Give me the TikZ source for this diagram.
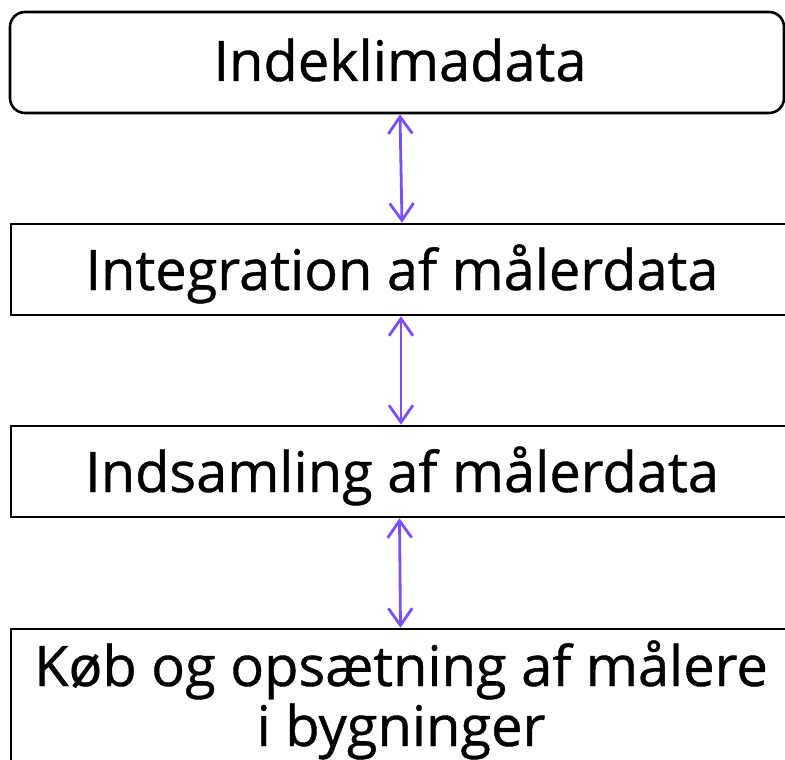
\documentclass[tikz,border=0pt]{standalone}
\usepackage{fontspec}
\setmainfont{Open Sans}[Ligatures=NoCommon, FakeBold=0.7]
\usetikzlibrary{arrows.meta}
\definecolor{linkpurple}{RGB}{124,78,252}
\tikzset{
  stage/.style={draw=black, line width=2.6pt, minimum width=779pt, inner sep=0pt},
  label/.style={font=\fontsize{56}{60}\selectfont, inner sep=0pt, anchor=base},
  barb/.tip={Straight Barb[length=17pt,width=24pt,line width=2.8pt]},
  link/.style={draw=linkpurple, line width=2.8pt, barb-barb}
}
\begin{document}
\begin{tikzpicture}[x=1pt,y=-1pt]
\useasboundingbox (0,0) rectangle (785,760);
\begin{scope}
\clip (0,0) rectangle (785,760);
% stacked stages, bottom layer first
\node[stage, rounded corners=15pt, minimum width=774pt, minimum height=101pt] (s1) at (397,62.5) {};
\node[stage, minimum height=91pt] (s2) at (400.5,269.5) {};
\node[stage, minimum height=91pt] (s3) at (400.5,471.5) {};
\node[stage, minimum height=180pt] (s4) at (400.5,719) {};
\end{scope}
% stage titles
\node[label] (t1) at (400,81) {Indeklimadata};
\node[label] (t2) at (402,290) {Integration af målerdata};
\node[label] (t3) at (402,492) {Indsamling af målerdata};
\node[label] (t4a) at (401,686) {Køb og opsætning af målere};
\node[label] (t4b) at (401,746) {i bygninger};
% two-way links between stages
\draw[link] ([xshift=3pt]s1.south) -- ([xshift=1.5pt]s2.north);
\draw[link] ([xshift=0.5pt]s2.south) -- ([xshift=0.5pt]s3.north);
\draw[link] ([xshift=-1pt]s3.south) -- ([xshift=0pt]s4.north);
\end{tikzpicture}
\end{document}
